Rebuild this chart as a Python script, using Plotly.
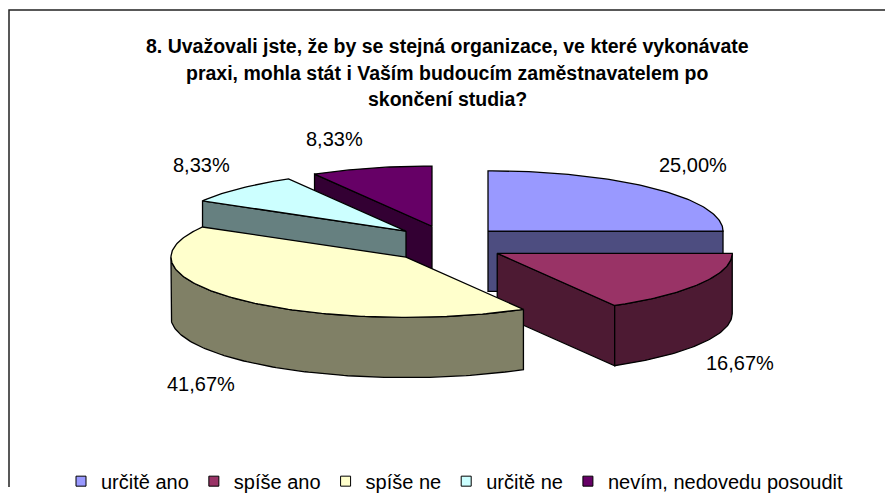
import numpy as np
import plotly.graph_objects as go

# ---- data ----
categories = ["určitě ano", "spíše ano", "spíše ne", "určitě ne", "nevím, nedovedu posoudit"]
values = [25.00, 16.67, 41.67, 8.33, 8.33]
title_lines = [
    "8. Uvažovali jste, že by se stejná organizace, ve které vykonávate",
    "praxi, mohla stát i Vaším budoucím zaměstnavatelem po",
    "skončení studia?",
]
top_colors = ["#9999FF", "#993366", "#FFFFCC", "#CCFFFF", "#660066"]
side_colors = ["#4D4D80", "#4D1A33", "#808066", "#668080", "#330033"]

# ---- layout geometry (page-pixel units) ----
PAGE_W, PAGE_H = 893, 501
BODY = 8                 # default page body margin
W, H = PAGE_W - BODY, PAGE_H - BODY
CX, CY = 447, 251        # pie centre
RX, RY = 235, 62         # ellipse radii of top face
DEPTH = 62               # thickness
EX, EY = 58, 19          # explosion offset
FONT = "Arial, Liberation Sans, sans-serif"

total = sum(values)
angles = np.concatenate([[0], np.cumsum(values)]) / total * 360.0
rad = np.radians


def arc(apex, t0, t1, dz=0.0, n_per_deg=1):
    n = max(2, int(abs(t1 - t0) * n_per_deg) + 1)
    t = rad(np.linspace(t0, t1, n))
    return apex[0] + RX * np.sin(t), apex[1] - RY * np.cos(t) + dz


fig = go.Figure()


def poly(xs, ys, color):
    xs = list(xs) + [xs[0]]
    ys = list(ys) + [ys[0]]
    fig.add_trace(go.Scatter(x=xs, y=ys, mode="lines", fill="toself",
                             fillcolor=color, line=dict(color="black", width=1.3),
                             hoverinfo="skip", showlegend=False))


mids = [(angles[i] + angles[i + 1]) / 2 for i in range(len(values))]
apexes = [(CX + EX * np.sin(rad(m)), CY - EY * np.cos(rad(m))) for m in mids]
order = sorted(range(len(values)), key=lambda i: -np.cos(rad(mids[i])))

eps = 1e-6
for i in order:
    a0, a1 = angles[i], angles[i + 1]
    ap = apexes[i]
    side = side_colors[i]
    # radial faces
    for a, vis in ((a0, np.sin(rad(a0)) < -eps), (a1, np.sin(rad(a1)) > eps)):
        if vis:
            ex = ap[0] + RX * np.sin(rad(a))
            ey = ap[1] - RY * np.cos(rad(a))
            poly([ap[0], ex, ex, ap[0]], [ap[1], ey, ey + DEPTH, ap[1] + DEPTH], side)
    # curved outer face
    lo, hi = max(a0, 90), min(a1, 270)
    if hi > lo:
        tx, ty = arc(ap, lo, hi)
        bx, by = arc(ap, hi, lo, DEPTH)
        poly(np.concatenate([tx, bx]), np.concatenate([ty, by]), side)
    # top face
    tx, ty = arc(ap, a0, a1)
    poly(np.concatenate([[ap[0]], tx]), np.concatenate([[ap[1]], ty]), top_colors[i])

# data labels
for i, v in enumerate(values):
    m = rad(mids[i])
    ap = apexes[i]
    s, c = np.sin(m), np.cos(m)
    ex = ap[0] + RX * s
    ey = ap[1] - RY * c + (DEPTH if c < 0 else 0)
    lx = ex + 35 * np.sign(s) + 5 * s
    ly = ey - 9 * np.sign(c) - 22 * c
    fig.add_annotation(x=lx, y=ly, xref="x", yref="y", showarrow=False,
                       text=f"{v:.2f}".replace(".", ",") + "%",
                       font=dict(family=FONT, size=20, color="black"))

# legend entries
for i, c in enumerate(categories):
    fig.add_trace(go.Scatter(x=[None], y=[None], mode="markers", name=c,
                             marker=dict(symbol="square", size=10, color=top_colors[i],
                                         line=dict(color="black", width=1))))

# title lines
for k, line in enumerate(title_lines):
    fig.add_annotation(x=447, y=47 + 27.5 * k, xref="x", yref="y", showarrow=False,
                       text=f"<b>{line}</b>",
                       font=dict(family=FONT, size=19.5, color="black"))

fig.update_layout(
    width=W, height=H,
    margin=dict(l=0, r=0, t=0, b=0),
    paper_bgcolor="white", plot_bgcolor="white",
    xaxis=dict(range=[BODY, PAGE_W], visible=False, fixedrange=True),
    yaxis=dict(range=[PAGE_H, BODY], visible=False, fixedrange=True),
    showlegend=True,
    legend=dict(orientation="h", x=0.5 + 4 / W, xanchor="center",
                y=1 - (495 - BODY) / H, yanchor="middle",
                font=dict(family=FONT, size=20, color="black"), bgcolor="rgba(0,0,0,0)",
                itemsizing="trace"),
    shapes=[dict(type="rect", xref="x", yref="y", x0=9, y0=10, x1=PAGE_W + 10, y1=PAGE_H + 10,
                 line=dict(color="#222222", width=1.5), fillcolor="rgba(0,0,0,0)", layer="below")],
)

fig.write_html("out.html")
